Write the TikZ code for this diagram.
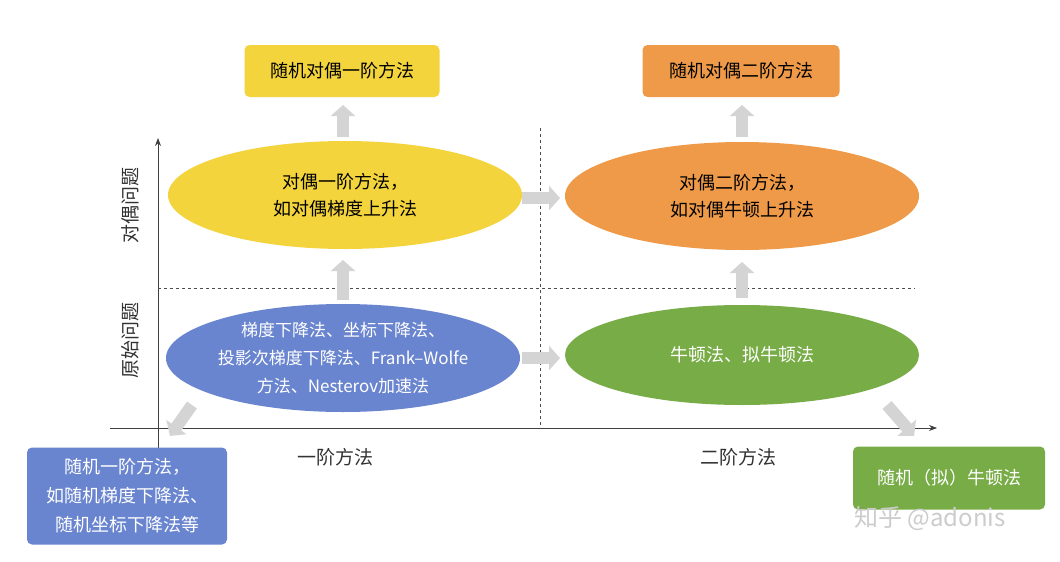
\documentclass[tikz,border=0pt]{standalone}
\usepackage{fontspec}
\setmainfont{Noto Sans CJK SC}
\usetikzlibrary{arrows.meta,shapes.geometric}
\definecolor{cy}{HTML}{F3D43C}
\definecolor{co}{HTML}{EE9A48}
\definecolor{cb}{HTML}{6A85CF}
\definecolor{cg}{HTML}{78AC47}
\definecolor{ga}{HTML}{D4D4D4}
\tikzset{
 ell/.style={ellipse,minimum width=354pt,minimum height=108pt,align=center,font=\fontsize{18}{27}\selectfont,inner sep=0pt},
 box/.style={rounded corners=5pt,align=center,font=\fontsize{18}{27}\selectfont},
 blk/.style={line width=12pt,draw=ga,-{Triangle[width=24pt,length=11pt]}},
 ax/.style={draw=black!75,line width=0.8pt},
 dsh/.style={draw=black!70,dashed,line width=0.7pt},
 lab/.style={font=\fontsize{19}{22}\selectfont,text=black!80}
}
\begin{document}
\begin{tikzpicture}[x=1pt,y=-1pt]
\useasboundingbox (0,0) rectangle (1060,562);
\fill[white] (0,0) rectangle (1060,562);
% axes
\draw[ax,-{Stealth[length=8pt]}] (158,450) -- (158,138);
\draw[ax,-{Stealth[length=8pt]}] (110,428) -- (937,428);
\draw[dsh] (158,288) -- (915,288);
\draw[dsh] (540,128) -- (540,428);
% nodes
\node[ell,fill=cy] (ye) at (345,195) {对偶一阶方法，\\如对偶梯度上升法};
\node[ell,fill=co] (oe) at (742,196) {对偶二阶方法，\\如对偶牛顿上升法};
\node[ell,fill=cb,text=white,font=\fontsize{17}{28}\selectfont,inner sep=-12pt] (be) at (343,358) {梯度下降法、坐标下降法、\\投影次梯度下降法、Frank–Wolfe\\方法、Nesterov加速法};
\node[ell,fill=cg,text=white,minimum height=100pt] (ge) at (742,355) {牛顿法、拟牛顿法};
\node[box,fill=cy,minimum width=195pt,minimum height=52pt] (yb) at (342,71) {随机对偶一阶方法};
\node[box,fill=co,minimum width=197pt,minimum height=52pt] (ob) at (741,71) {随机对偶二阶方法};
\node[box,fill=cb,text=white,minimum width=200pt,minimum height=97pt,font=\fontsize{18}{29}\selectfont] (bb) at (127,496) {随机一阶方法，\\如随机梯度下降法、\\随机坐标下降法等};
\node[box,fill=cg,text=white,minimum width=192pt,minimum height=63pt] (gb) at (949,478) {随机（拟）牛顿法};
% block arrows
\coordinate (a1) at (343,137); \coordinate (a2) at (343,105);
\draw[blk] (a1) -- (a2);
\coordinate (a3) at (343,300); \coordinate (a4) at (343,260);
\draw[blk] (a3) -- (a4);
\coordinate (a5) at (742,137); \coordinate (a6) at (742,105);
\draw[blk] (a5) -- (a6);
\coordinate (a7) at (742,298); \coordinate (a8) at (742,262);
\draw[blk] (a7) -- (a8);
\coordinate (b1) at (522,198); \coordinate (b2) at (560,198);
\draw[blk] (b1) -- (b2);
\coordinate (b3) at (522,358); \coordinate (b4) at (560,358);
\draw[blk] (b3) -- (b4);
\coordinate (c1) at (192,405); \coordinate (c2) at (170,436);
\draw[blk] (c1) -- (c2);
\coordinate (c3) at (887,405); \coordinate (c4) at (914,436);
\draw[blk] (c3) -- (c4);
% labels
\node[lab] (l1) at (335,457) {一阶方法};
\node[lab] (l2) at (738,457) {二阶方法};
\node[lab,rotate=90] (l3) at (130,205) {对偶问题};
\node[lab,rotate=90] (l4) at (130,340) {原始问题};
\node[font=\fontsize{24}{28}\selectfont,text=black!20] (wm) at (930,518) {知乎 @adonis};
\end{tikzpicture}
\end{document}
